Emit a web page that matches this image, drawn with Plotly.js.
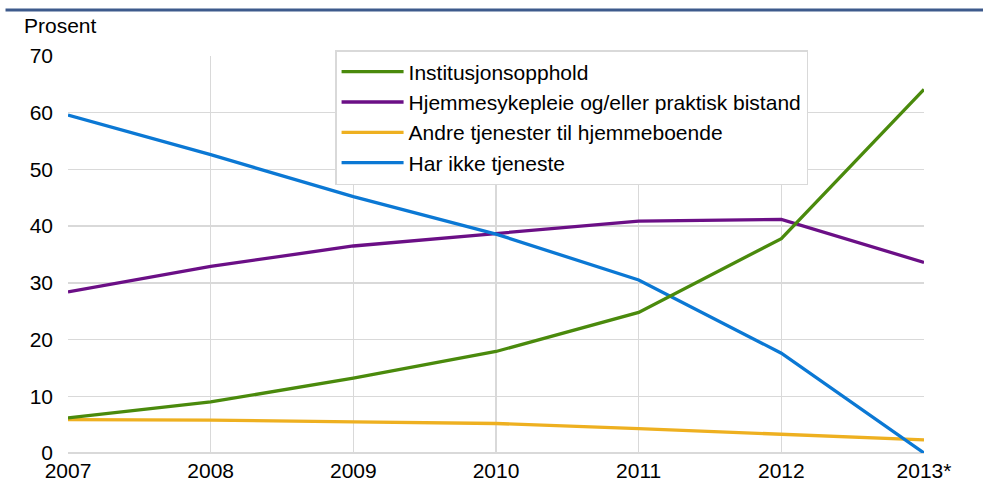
<!DOCTYPE html>
<html>
<head>
<meta charset="utf-8">
<script src="https://cdn.plot.ly/plotly-3.0.1.min.js"></script>
<style>html,body{margin:0;padding:0;background:#fff;}#chart{width:983px;height:488px;}</style>
</head>
<body>
<div id="chart"></div>
<script>
const years = ["2007", "2008", "2009", "2010", "2011", "2012", "2013*"];
const institusjon = [6.2, 9.0, 13.2, 17.9, 24.8, 37.8, 64.1];
const hjemmesykepleie = [28.4, 32.9, 36.5, 38.7, 40.9, 41.2, 33.6];
const andreTjenester = [5.9, 5.8, 5.5, 5.2, 4.3, 3.3, 2.3];
const harIkke = [59.6, 52.6, 45.2, 38.6, 30.5, 17.6, 0.0];
const seriesNames = ["Institusjonsopphold", "Hjemmesykepleie og/eller praktisk bistand", "Andre tjenester til hjemmeboende", "Har ikke tjeneste"];
const yTicks = [0, 10, 20, 30, 40, 50, 60, 70];

const colors = ["#4a8a0c", "#6b0f86", "#eeb020", "#0b78d4"];
const seriesData = [institusjon, hjemmesykepleie, andreTjenester, harIkke];

const traces = seriesData.map((d, i) => ({
  type: "scatter",
  mode: "lines",
  x: years,
  y: d,
  name: seriesNames[i],
  legendgroup: "g" + i,
  legendrank: i + 1,
  line: {color: colors[i], width: 3.3},
  hoverinfo: "skip"
}));
// draw order: yellow under, then purple, blue, green on top
const ordered = [traces[2], traces[1], traces[3], traces[0]];

const fam = "Liberation Sans, Arial, sans-serif";
const font = {family: fam, size: 21, color: "#000"};

const layout = {
  width: 983, height: 488,
  margin: {l: 68, r: 59, t: 56, b: 35},
  paper_bgcolor: "#fff", plot_bgcolor: "#fff",
  font: font,
  showlegend: true,
  legend: {
    x: 0.312, y: 1.015, xanchor: "left", yanchor: "top",
    bgcolor: "#fff", bordercolor: "#d9d9d9", borderwidth: 1.5,
    font: {family: fam, size: 21, color: "#000"},
    traceorder: "grouped", tracegroupgap: 0,
    itemwidth: 62
  },
  xaxis: {
    type: "category", range: [0, 6],
    showgrid: true, gridcolor: "#d9d9d9", gridwidth: 1.5,
    showline: false, zeroline: false, ticks: "", ticklabelstandoff: 3,
    tickfont: {family: fam, size: 21, color: "#000"},
    fixedrange: true
  },
  yaxis: {
    range: [0, 70], tickvals: yTicks, ticktext: yTicks.map(String),
    showgrid: true, gridcolor: "#d9d9d9", gridwidth: 1.5,
    zeroline: true, zerolinecolor: "#d9d9d9", zerolinewidth: 1.5,
    showline: false, ticks: "", ticklabelstandoff: 14,
    tickfont: {family: fam, size: 21, color: "#000"},
    fixedrange: true
  },
  shapes: [
    {type: "line", xref: "paper", yref: "paper",
     x0: -0.073, x1: 1.07, y0: 1.116, y1: 1.116,
     line: {color: "#3d5a8c", width: 3}}
  ],
  annotations: [
    {text: "Prosent", xref: "paper", yref: "paper", x: -0.054, y: 1.078,
     xanchor: "left", yanchor: "middle", showarrow: false,
     font: {family: fam, size: 21, color: "#000"}}
  ]
};

Plotly.newPlot("chart", ordered, layout, {displayModeBar: false, staticPlot: true});
</script>
</body>
</html>
